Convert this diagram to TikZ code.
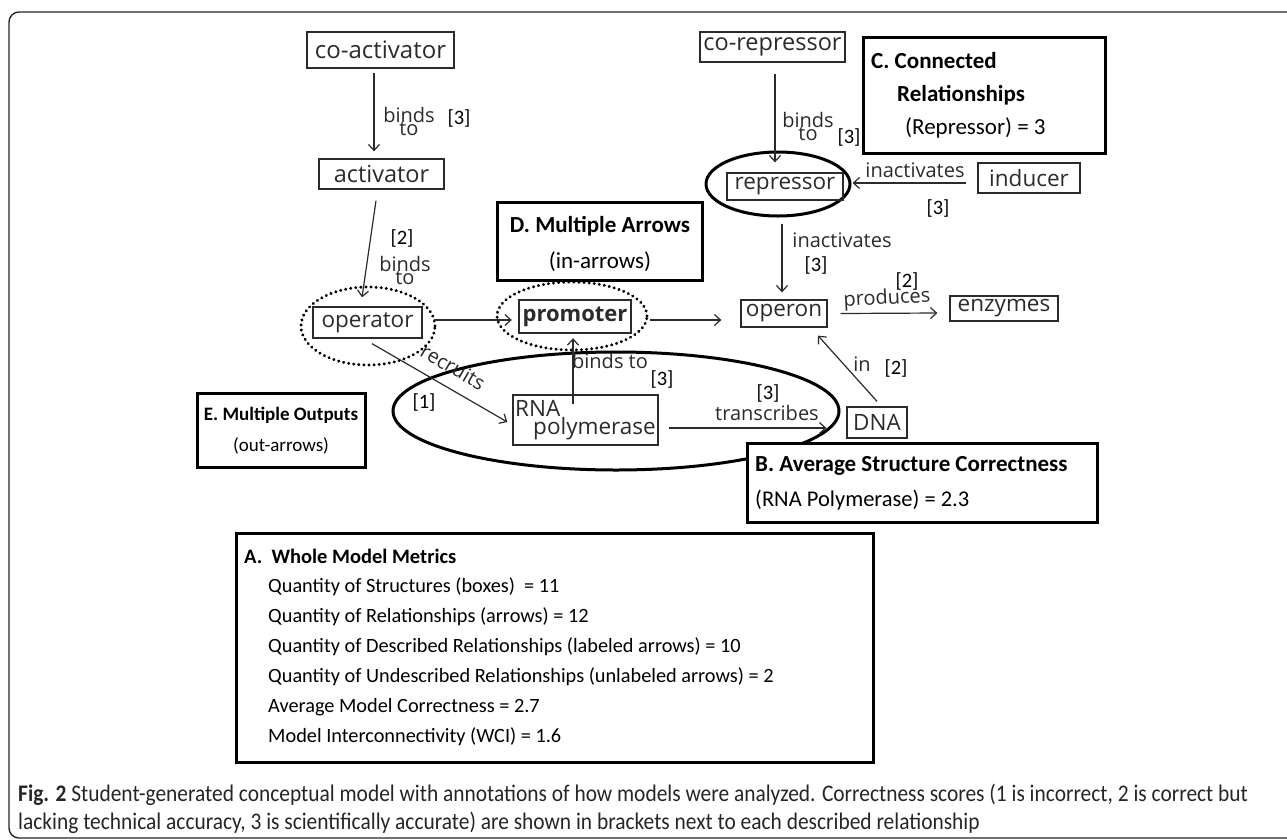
\documentclass[tikz,border=0pt]{standalone}
\usepackage{fontspec}
\setmainfont{Carlito}
\newfontfamily\hand{Open Sans}
\newfontfamily\capfont[FakeStretch=0.9]{Carlito}
\usetikzlibrary{arrows.meta,shapes.geometric,calc}
\definecolor{ink}{HTML}{2B2B2B}
\tikzset{
  hbox/.style={draw=ink, line width=1.3pt, rectangle, inner sep=0pt, font=\hand\fontsize{22.5}{24}\selectfont, text=ink},
  harrow/.style={draw=ink, line width=1.2pt, -{Straight Barb[length=6pt,width=11pt,line width=1.2pt]}},
  hlab/.style={font=\hand\fontsize{20}{20}\selectfont, text=ink, inner sep=0pt, align=center},
  score/.style={font=\fontsize{20.5}{22}\selectfont, inner sep=0pt},
  annot/.style={draw=black, line width=3pt, rectangle, fill=white},
  atitle/.style={font=\bfseries\fontsize{23}{26}\selectfont, inner sep=0pt, anchor=west},
  atext/.style={font=\fontsize{22.5}{26}\selectfont, inner sep=0pt, anchor=west},
  mtext/.style={font=\fontsize{20.3}{24}\selectfont, inner sep=0pt, anchor=west},
  solidring/.style={draw=black, line width=3pt, ellipse, inner sep=0pt},
  dotring/.style={draw=black, line width=3.2pt, ellipse, inner sep=0pt, dash pattern=on 0.1pt off 5pt, line cap=round},
}
\begin{document}
\begin{tikzpicture}[x=1pt,y=-1pt]
\useasboundingbox (0,0) rectangle (1287,839);
\clip (0,0) rectangle (1287,839);
\fill[white] (0,0) rectangle (1287,839);
% outer frame
\draw[line width=1.4pt, rounded corners=10pt, draw=black!85] (9,12) rectangle (1310,838);

% rings (drawn before boxes)
\node[dotring, minimum width=134pt, minimum height=78pt] (opring) at (368,326) {};
\node[dotring, minimum width=150pt, minimum height=68pt] (promring) at (572,316) {};
\node[solidring, minimum width=446pt, minimum height=118pt] (rnaring) at (616,411) {};
\node[solidring, minimum width=144pt, minimum height=64pt] (repring) at (778,184) {};

% handwritten structure boxes
\node[hbox, minimum width=147pt, minimum height=36pt, font=\hand\fontsize{24}{24}\selectfont] (coact) at (380.5,50) {co-activator};
\node[hbox, minimum width=125pt, minimum height=30pt, font=\hand\fontsize{23.5}{24}\selectfont] (act) at (381.5,174) {activator};
\node[hbox, minimum width=109pt, minimum height=31pt] (op) at (367.5,322.5) {operator};
\node[hbox, line width=2.4pt, minimum width=112pt, minimum height=33pt, font=\hand\bfseries\fontsize{22}{24}\selectfont] (prom) at (575,316.5) {promoter};
\node[hbox, minimum width=145pt, minimum height=50pt, align=left] (rna) at (585.5,420) {RNA\\[-6pt]\hspace*{18pt}polymerase};
\node[hbox, minimum width=86pt, minimum height=27pt] (operon) at (784,313.5) {operon};
\node[hbox, minimum width=108pt, minimum height=25pt] (enz) at (1004,308.5) {enzymes};
\node[hbox, minimum width=60pt, minimum height=31pt] (dna) at (877,422.5) {DNA};
\node[hbox, minimum width=145pt, minimum height=30pt, font=\hand\fontsize{23.5}{24}\selectfont] (corep) at (772.5,47) {co-repressor};
\node[hbox, minimum width=116pt, minimum height=27pt] (rep) at (785,186.5) {repressor};
\node[hbox, minimum width=102pt, minimum height=30pt] (ind) at (1029,178) {inducer};

% connectors
\draw[harrow] ([xshift=-6.5pt,yshift=-4pt]coact.south) -- ([xshift=-7.5pt,yshift=7pt]act.north);
\draw[harrow] ([xshift=-5.5pt,yshift=-11pt]act.south) -- ([xshift=-5.5pt,yshift=9pt]op.north);
\draw[harrow] ([xshift=11pt,yshift=2.5pt]op.east) -- ([xshift=-6pt,yshift=-3.5pt]prom.west);
\draw[harrow] ([xshift=18pt,yshift=-3.5pt]prom.east) -- ([xshift=-19pt,yshift=-6.5pt]operon.west);
\draw[harrow] ([xshift=4.5pt,yshift=-5pt]op.south) -- ([xshift=-5pt,yshift=-2pt]rna.west);
\draw[harrow] ([xshift=-12.5pt,yshift=-10pt]rna.north) -- ([xshift=-2pt,yshift=-4pt]prom.south);
\draw[harrow] ([xshift=10pt,yshift=-8pt]rna.east) -- ([xshift=-20pt,yshift=-5.5pt]dna.west);
\draw[harrow] ([yshift=5pt]dna.north) -- ([xshift=34pt,yshift=-8pt]operon.south);
\draw[harrow] ([xshift=13pt]operon.east) -- ([xshift=-12pt,yshift=-4.5pt]enz.west);
\draw[harrow] ([xshift=-3pt,yshift=-23pt]rep.south) -- ([xshift=-2pt,yshift=7pt]operon.north);
\draw[harrow] ([xshift=2.5pt,yshift=-11pt]corep.south) -- ([xshift=-10pt,yshift=10pt]rep.north);
\draw[harrow] ([xshift=-11pt,yshift=-5pt]ind.west) -- ([xshift=9pt,yshift=3.5pt]rep.east);

% connector labels
\node[hlab] (l1) at (409,121) {binds\\[-7pt]to};
\node[score] (s1) at (459,118) {[3]};
\node[score] (s2) at (402,238) {[2]};
\node[hlab] (l2) at (405,270) {binds\\[-7pt]to};
\node[hlab, rotate=-30] (l3) at (453,367) {recruits};
\node[score] (s3) at (424,402) {[1]};
\node[hlab] (l4) at (610,361) {binds to};
\node[score] (s4) at (662,379) {[3]};
\node[score] (s5) at (768,393) {[3]};
\node[hlab] (l5) at (767,413) {transcribes};
\node[hlab] (l6) at (862,364) {in};
\node[score] (s6) at (896,368) {[2]};
\node[score] (s7) at (907,281) {[2]};
\node[hlab, rotate=3] (l7) at (887,299) {produces};
\node[hlab] (l8) at (842,240) {inactivates};
\node[score] (s8) at (816,265) {[3]};
\node[hlab] (l9) at (808,126) {binds\\[-7pt]to};
\node[score] (s9) at (849,137) {[3]};
\node[hlab] (l10) at (915,170) {inactivates};
\node[score] (s10) at (938,208) {[3]};

% annotation boxes
\draw[annot] (863,37) rectangle (1105,153);
\node[atitle] (ct1) at (871,61) {C. Connected};
\node[atitle] (ct2) at (897,95) {Relationships};
\node[atext, font=\fontsize{23}{26}\selectfont] (ct3) at (905,128) {(Repressor) = 3};

\draw[annot] (497,202) rectangle (702,280);
\node[atitle, anchor=center] (dt1) at (600,226) {D. Multiple Arrows};
\node[atext, anchor=center, font=\fontsize{23}{26}\selectfont] (dt2) at (600,262) {(in-arrows)};

\draw[annot] (197,393) rectangle (365,467);
\node[atitle, anchor=center, font=\bfseries\fontsize{19}{22}\selectfont] (et1) at (281,415) {E. Multiple Outputs};
\node[atext, anchor=center, font=\fontsize{19}{22}\selectfont] (et2) at (281,446) {(out-arrows)};

\draw[annot] (747,443) rectangle (1097,522);
\node[atitle] (bt1) at (755,466) {B. Average Structure Correctness};
\node[atext] (bt2) at (755,500) {(RNA Polymerase) = 2.3};

\draw[annot] (236,533) rectangle (873,762);
\node[atitle, font=\bfseries\fontsize{20.5}{24}\selectfont] (at0) at (244,556) {A.\ \ Whole Model Metrics};
\node[mtext] (at1) at (268,587) {Quantity of Structures (boxes)\ \ = 11};
\node[mtext] (at2) at (268,617) {Quantity of Relationships (arrows) = 12};
\node[mtext] (at3) at (268,647) {Quantity of Described Relationships (labeled arrows) = 10};
\node[mtext] (at4) at (268,677) {Quantity of Undescribed Relationships (unlabeled arrows) = 2};
\node[mtext] (at5) at (268,707) {Average Model Correctness = 2.7};
\node[mtext] (at6) at (268,737) {Model Interconnectivity (WCI) = 1.6};

% caption
\node[inner sep=0pt, anchor=west, font=\capfont\fontsize{23.8}{26}\selectfont, text=black!85] (cap1) at (18,795) {\textbf{Fig. 2} Student-generated conceptual model with annotations of how models were analyzed. Correctness scores (1 is incorrect, 2 is correct but};
\node[inner sep=0pt, anchor=west, font=\capfont\fontsize{23.8}{26}\selectfont, text=black!85] (cap2) at (18,823) {lacking technical accuracy, 3 is scientifically accurate) are shown in brackets next to each described relationship};
\end{tikzpicture}
\end{document}
